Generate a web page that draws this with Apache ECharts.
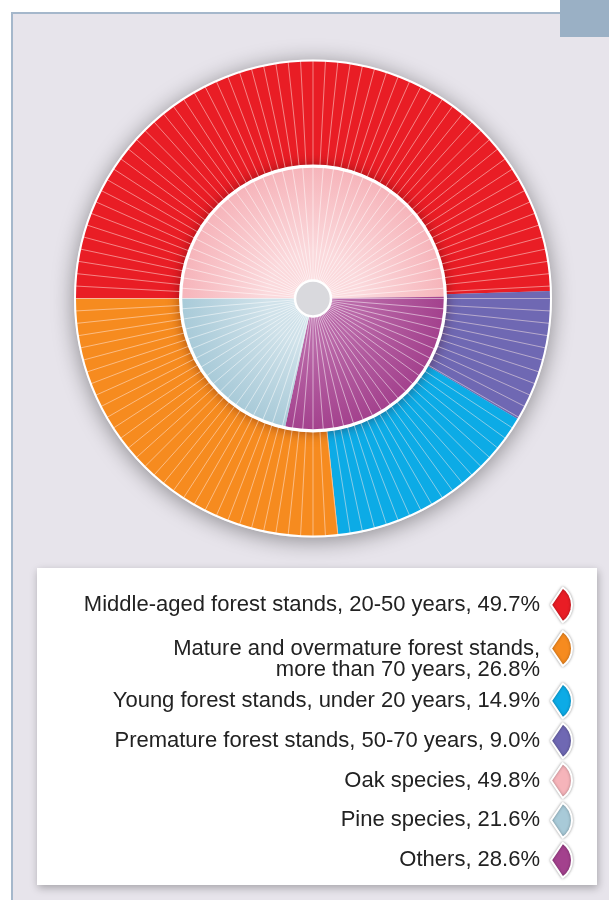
<!DOCTYPE html>
<html><head><meta charset="utf-8">
<script src="https://cdn.jsdelivr.net/npm/echarts@6/dist/echarts.min.js"></script>
<style>
html,body{margin:0;padding:0;background:#fff;width:609px;height:900px;overflow:hidden;}
#panel{position:absolute;left:11px;top:12px;width:620px;height:900px;background:#e7e4eb;border-left:2px solid #a5b7cb;border-top:2px solid #a5b7cb;}
#tab{position:absolute;left:560px;top:0;width:49px;height:37px;background:#9ab0c5;}
#legendbox{position:absolute;left:37px;top:568px;width:560px;height:317px;background:#fff;box-shadow:1px 3px 8px rgba(0,0,0,0.28);}
#chart{position:absolute;left:0;top:0;width:609px;height:900px;}
</style></head><body>
<div id="panel"></div><div id="tab"></div><div id="legendbox"></div><div id="chart"></div>
<script>
// ---- data ----
const ageCategories = [
  'Middle-aged forest stands, 20-50 years',
  'Premature forest stands, 50-70 years',
  'Young forest stands, under 20 years',
  'Mature and overmature forest stands,\nmore than 70 years'
];
const ageShares = [49.7, 9.0, 14.9, 26.8];
const speciesCategories = ['Oak species', 'Others', 'Pine species'];
const speciesShares = [49.8, 28.6, 21.6];
const legendGroup1 = ['Middle-aged forest stands, 20-50 years'];
const legendGroup2 = ['Mature and overmature forest stands,\nmore than 70 years'];
const legendGroup3 = [
  'Young forest stands, under 20 years',
  'Premature forest stands, 50-70 years',
  'Oak species',
  'Pine species',
  'Others'
];

// ---- styles ----
const CX = 313, CY = 298.5;
const ageColors = ['#e91d25', '#6f68b3', '#0cabe6', '#f68b1f'];
const speciesColors = ['#f6b4ba', '#a3418d', '#a8cad8'];
const speciesInnerColors = ['#fbdadd', '#b968a8', '#d0e2ea'];
const FONT = '"Liberation Sans", Arial, Helvetica, sans-serif';
const ICON = 'path://M0,50 L33.55,0.26 L44.59,9.85 L52.98,21.83 L58.22,35.48 L60,50 L58.22,64.52 L52.98,78.17 L44.59,90.15 L33.55,99.74 Z';

const valueOf = {};
ageCategories.forEach((n, i) => valueOf[n] = ageShares[i]);
speciesCategories.forEach((n, i) => valueOf[n] = speciesShares[i]);
const colorOf = {};
ageCategories.forEach((n, i) => colorOf[n] = ageColors[i]);
speciesCategories.forEach((n, i) => colorOf[n] = speciesColors[i]);

function radial(inner, outer) {
  return {type: 'radial', x: CX, y: CY, r: 132, global: true,
    colorStops: [{offset: 0, color: inner}, {offset: 0.35, color: inner}, {offset: 1, color: outer}]};
}

const hidden = {axisLine: {show: false}, axisTick: {show: false}, axisLabel: {show: false}};

function makeLegend(names, top, gap) {
  return {
    orient: 'vertical', align: 'right', right: 36, top: top,
    itemWidth: 21, itemHeight: 35, itemGap: gap, padding: 0,
    selectedMode: false, icon: ICON,
    itemStyle: {borderColor: '#ffffff', borderWidth: 2, shadowBlur: 3, shadowColor: 'rgba(0,0,0,0.35)'},
    textStyle: {fontFamily: FONT, fontSize: 22, color: '#222222', lineHeight: 21, padding: [0, 6, 0, 0]},
    // multi-line entries: first line sits level with the icon
    formatter: name => (name.indexOf('\n') >= 0 ? '\n' : '') + name + ', ' + valueOf[name].toFixed(1) + '%',
    data: names.map(n => ({name: n, itemStyle: {color: colorOf[n]}}))
  };
}

const chart = echarts.init(document.getElementById('chart'), null, {renderer: 'canvas'});
chart.setOption({
  animation: false,
  backgroundColor: 'transparent',
  polar: [
    {center: [CX, CY], radius: [133, 238]},
    {center: [CX, CY], radius: [18, 132]},
    {center: [CX, CY], radius: [0, 239]},
    {center: [CX, CY], radius: [0, 132]}
  ],
  angleAxis: [
    Object.assign({polarIndex: 0, type: 'value', min: 0, max: 360, interval: 3, z: 10,
      splitLine: {show: true, lineStyle: {color: 'rgba(255,235,230,0.5)', width: 1}}}, hidden),
    Object.assign({polarIndex: 1, type: 'value', min: 0, max: 360, interval: 4.5, z: 10,
      splitLine: {show: true, lineStyle: {color: 'rgba(255,255,255,0.5)', width: 1}}}, hidden),
    Object.assign({polarIndex: 2, type: 'value', min: 0, max: 360, splitLine: {show: false}}, hidden),
    Object.assign({polarIndex: 3, type: 'value', min: 0, max: 360, splitLine: {show: false}}, hidden)
  ],
  radiusAxis: [
    Object.assign({polarIndex: 0, type: 'value', min: 0, max: 1, interval: 1, z: 11,
      splitLine: {show: true, lineStyle: {color: '#ffffff', width: 2}}}, hidden),
    Object.assign({polarIndex: 1, type: 'value', min: 0, max: 1, interval: 1, z: 11,
      splitLine: {show: true, lineStyle: {color: '#ffffff', width: 2.5}}}, hidden),
    Object.assign({polarIndex: 2, type: 'value', min: 0, max: 1, interval: 1, z: 0,
      splitLine: {show: false},
      splitArea: {show: true, areaStyle: {color: ['#d8d6dc'], shadowBlur: 22, shadowColor: 'rgba(0,0,0,0.4)', shadowOffsetY: 3}}}, hidden),
    Object.assign({polarIndex: 3, type: 'value', min: 0, max: 1, interval: 1, z: 3,
      splitLine: {show: false},
      splitArea: {show: true, areaStyle: {color: ['#d9d9dd'], shadowBlur: 14, shadowColor: 'rgba(60,0,0,0.6)'}}}, hidden)
  ],
  legend: [
    makeLegend(legendGroup1, 586.5, 3),
    makeLegend(legendGroup2, 616.5, 3),
    makeLegend(legendGroup3, 682.5, 3)
  ],
  series: [
    {
      type: 'pie', name: 'Age', center: [CX, CY], radius: [133, 238],
      startAngle: 180, clockwise: true, z: 2, silent: true,
      label: {show: false}, labelLine: {show: false},
      itemStyle: {borderWidth: 0},
      data: ageCategories.map((n, i) => ({name: n, value: ageShares[i], itemStyle: {color: ageColors[i]}}))
    },
    {
      type: 'pie', name: 'Species', center: [CX, CY], radius: [18, 132],
      startAngle: 180, clockwise: true, z: 4, silent: true,
      label: {show: false}, labelLine: {show: false},
      itemStyle: {borderWidth: 0},
      data: speciesCategories.map((n, i) => ({name: n, value: speciesShares[i],
        itemStyle: {color: radial(speciesInnerColors[i], speciesColors[i])}}))
    }
  ]
});
</script>
</body></html>
